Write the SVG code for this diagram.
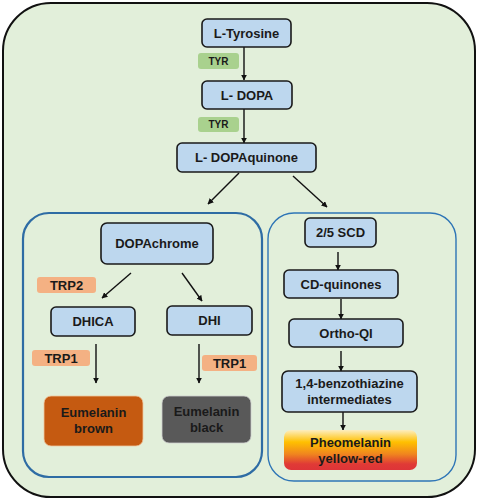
<svg xmlns="http://www.w3.org/2000/svg" width="478" height="500" viewBox="0 0 478 500">
<style>
.bg{fill:#e2efda;stroke:#111;stroke-width:2}
.node{fill:#bdd7ee;stroke:#1a1a1a;stroke-width:1.6}
.t{font-family:"Liberation Sans",Arial,sans-serif;font-weight:bold;font-size:13px;fill:#1a1a1a;text-anchor:middle}
.st{font-family:"Liberation Sans",Arial,sans-serif;font-weight:bold;font-size:10px;fill:#1a1a1a;text-anchor:middle}
.tyr{fill:#a9d18e}
.trp{fill:#f4b183}
.c{stroke:#111;stroke-width:1.4;fill:none;marker-end:url(#ah)}
</style>
<defs>
<marker id="ah" viewBox="0 0 10 10" refX="9" refY="5" markerWidth="6" markerHeight="6" markerUnits="userSpaceOnUse" orient="auto">
<path d="M0,0 L10,5 L0,10 Z" fill="#111"/>
</marker>
<linearGradient id="pheo" x1="0" y1="0" x2="0" y2="1">
<stop offset="0" stop-color="#fdeec0"/>
<stop offset="0.3" stop-color="#ffc000"/>
<stop offset="0.6" stop-color="#f0861e"/>
<stop offset="0.85" stop-color="#e03a36"/>
<stop offset="1" stop-color="#de3438"/>
</linearGradient>
</defs>
<rect id="outer" class="bg" x="3" y="3" width="472" height="494" rx="48"/>
<rect id="eumelanin-box" x="23" y="213" width="239" height="264" rx="26" fill="none" stroke="#2e6ca4" stroke-width="2.2"/>
<rect id="pheomelanin-box" x="268" y="213" width="188" height="268" rx="26" fill="none" stroke="#2e75b6" stroke-width="1.4"/>

<g id="connectors">
<line class="c" x1="244" y1="47" x2="244" y2="80"/>
<line class="c" x1="244" y1="109" x2="244" y2="143"/>
<line class="c" x1="239" y1="173" x2="208" y2="204"/>
<line class="c" x1="293" y1="176" x2="327" y2="207"/>
<line class="c" x1="131" y1="273" x2="102" y2="298"/>
<line class="c" x1="182" y1="273" x2="202" y2="301"/>
<line class="c" x1="96" y1="344" x2="96" y2="383"/>
<line class="c" x1="199" y1="344" x2="199" y2="383"/>
<line class="c" x1="338" y1="252" x2="338" y2="270"/>
<line class="c" x1="341" y1="299" x2="341" y2="319"/>
<line class="c" x1="341" y1="351" x2="341" y2="371"/>
<line class="c" x1="343" y1="412" x2="343" y2="430"/>
</g>

<g id="tyr1"><rect class="tyr" x="198" y="53" width="41" height="16" rx="3"/><text class="st" x="218.5" y="64.5">TYR</text></g>
<g id="tyr2"><rect class="tyr" x="198" y="117" width="41" height="15" rx="3"/><text class="st" x="218.5" y="128">TYR</text></g>
<g id="trp2"><rect class="trp" x="37" y="277" width="59" height="16" rx="3"/><text class="t" x="66.5" y="289.5">TRP2</text></g>
<g id="trp1-left"><rect class="trp" x="32" y="350" width="58" height="16" rx="3"/><text class="t" x="61" y="362.5">TRP1</text></g>
<g id="trp1-right"><rect class="trp" x="202" y="355" width="55" height="16" rx="3"/><text class="t" x="229.5" y="367.5">TRP1</text></g>

<g id="l-tyrosine"><rect class="node" x="202" y="19" width="89" height="28" rx="5"/><text class="t" x="246.5" y="37.5">L-Tyrosine</text></g>
<g id="l-dopa"><rect class="node" x="202" y="81" width="90" height="28" rx="5"/><text class="t" x="247" y="99.5">L- DOPA</text></g>
<g id="l-dopaquinone"><rect class="node" x="177" y="143" width="139" height="29" rx="5"/><text class="t" x="246.5" y="162">L- DOPAquinone</text></g>
<g id="dopachrome"><rect class="node" x="101" y="223" width="112" height="41" rx="6"/><text class="t" x="157" y="248">DOPAchrome</text></g>
<g id="dhica"><rect class="node" x="51" y="307" width="84" height="29" rx="5"/><text class="t" x="93" y="326">DHICA</text></g>
<g id="dhi"><rect class="node" x="167" y="306" width="85" height="29" rx="5"/><text class="t" x="209.5" y="325">DHI</text></g>
<g id="eumelanin-brown"><rect x="44" y="396" width="99" height="50" rx="7" fill="#c55a11" stroke="#f0c8a0" stroke-width="0.8"/><text class="t" x="93.5" y="417">Eumelanin</text><text class="t" x="93.5" y="433">brown</text></g>
<g id="eumelanin-black"><rect x="162" y="396" width="89" height="47" rx="7" fill="#595959" stroke="#cfcfcf" stroke-width="0.8"/><text class="t" x="206.5" y="416">Eumelanin</text><text class="t" x="206.5" y="432">black</text></g>

<g id="scd"><rect class="node" x="305" y="218" width="71" height="29" rx="5"/><text class="t" x="340.5" y="237">2/5 SCD</text></g>
<g id="cd-quinones"><rect class="node" x="284" y="270" width="114" height="28" rx="5"/><text class="t" x="341" y="288.5">CD-quinones</text></g>
<g id="ortho-qi"><rect class="node" x="289" y="319" width="114" height="28" rx="5"/><text class="t" x="346" y="337.5">Ortho-QI</text></g>
<g id="benzothiazine"><rect class="node" x="282" y="371" width="135" height="41" rx="6"/><text class="t" x="349.5" y="388">1,4-benzothiazine</text><text class="t" x="349.5" y="404">intermediates</text></g>
<g id="pheomelanin"><rect x="284" y="430" width="133" height="40" rx="7" fill="url(#pheo)"/><text class="t" x="350.5" y="447" fill="#111">Pheomelanin</text><text class="t" x="350.5" y="463">yellow-red</text></g>
</svg>
